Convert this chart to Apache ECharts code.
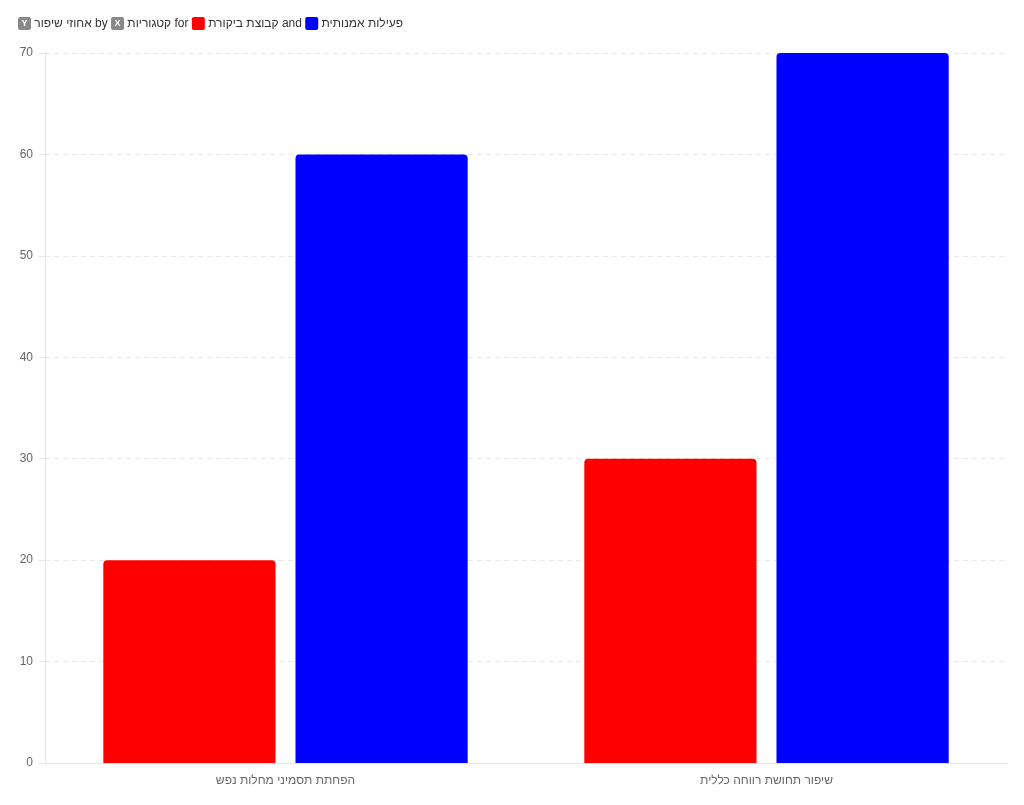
<!DOCTYPE html>
<html><head><meta charset="utf-8">
<script src="https://cdn.jsdelivr.net/npm/echarts@6/dist/echarts.min.js"></script>
<style>html,body{margin:0;padding:0;background:#fff}#c{width:1024px;height:805px}</style>
</head><body><div id="c"></div>
<script>
const categories = ['הפחתת תסמיני מחלות נפש', 'שיפור תחושת רווחה כללית'];
const seriesNames = ['קבוצת ביקורת', 'פעילות אמנותית'];
const controlValues = [20, 30];
const artValues = [60, 70];
const yTicks = [0, 10, 20, 30, 40, 50, 60, 70];
const xLabelName = 'קטגוריות';
const yLabelName = 'אחוזי שיפור';
const colors = ['#ff0000', '#0000ff'];

const chart = echarts.init(document.getElementById('c'));
const box = (bg) => ({backgroundColor: bg, width: 13, height: 13, borderRadius: 2, color: '#fff', fontSize: 9, fontWeight: 'bold', align: 'center', lineHeight: 13});
chart.setOption({
  animation: false,
  textStyle: {fontFamily: 'Liberation Sans, DejaVu Sans, sans-serif'},
  title: {
    left: 13, top: 12,
    text: '{y|Y} {t|' + yLabelName + '} {t|by} {x|X} {t|' + xLabelName + '} {t|for} {r|} {t|' + seriesNames[0] + '} {t|and} {b|} {t|' + seriesNames[1] + '}',
    textStyle: {
      fontSize: 12, fontWeight: 'normal', color: '#333',
      rich: {
        t: {fontSize: 12, color: '#333'},
        y: box('#888'), x: box('#888'), r: box(colors[0]), b: box(colors[1])
      }
    }
  },
  grid: {left: 45, right: 17, top: 53, bottom: 42},
  xAxis: {
    type: 'category', data: categories,
    axisLine: {lineStyle: {color: '#e6e6e6'}},
    axisTick: {show: false},
    axisLabel: {color: '#666', fontSize: 12, margin: 12}
  },
  yAxis: {
    type: 'value', min: yTicks[0], max: yTicks[yTicks.length - 1], interval: yTicks[1] - yTicks[0],
    axisLine: {show: true, lineStyle: {color: '#e6e6e6'}},
    axisTick: {show: true, length: 6, lineStyle: {color: '#e6e6e6'}},
    axisLabel: {color: '#666', fontSize: 12, margin: 12},
    splitLine: {lineStyle: {color: '#e8e8e8', type: [5, 4]}}
  },
  series: [
    {name: seriesNames[0], type: 'bar', data: controlValues, barWidth: '35.8%', barGap: '11.6%',
     itemStyle: {color: colors[0], borderRadius: [4, 4, 0, 0]}},
    {name: seriesNames[1], type: 'bar', data: artValues, barWidth: '35.8%', barGap: '11.6%',
     itemStyle: {color: colors[1], borderRadius: [4, 4, 0, 0]}}
  ]
});
</script></body></html>
